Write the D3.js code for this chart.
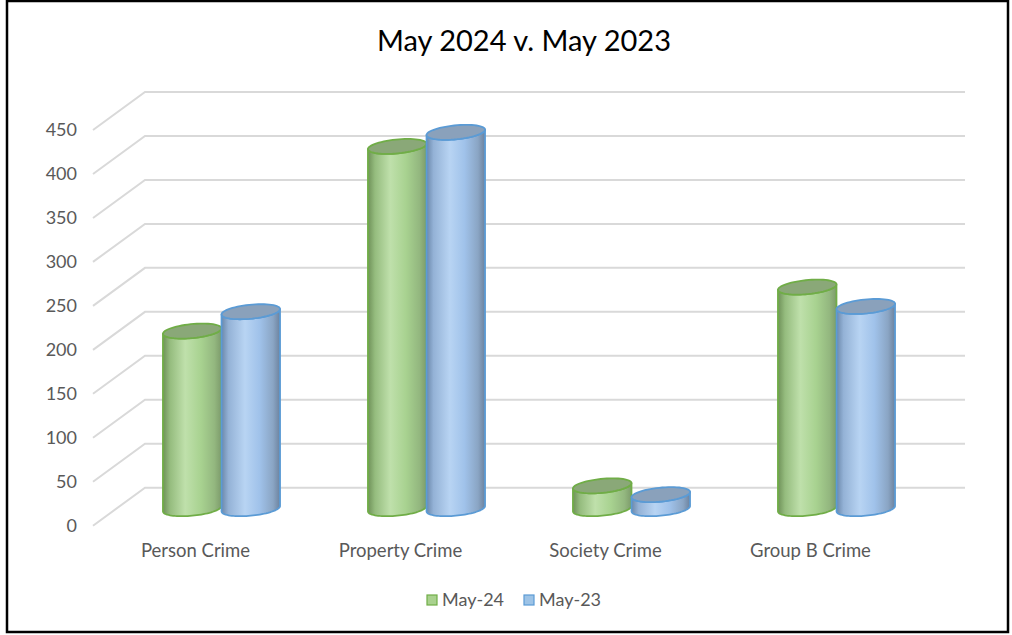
<!DOCTYPE html>
<html>
<head>
<meta charset="utf-8">
<script src="https://cdn.jsdelivr.net/npm/d3@7"></script>
<style>
  body { margin: 0; background: #fff; }
  text { font-family: Lato, "Open Sans", sans-serif; }
</style>
</head>
<body>
<div id="chart"></div>
<script>
// data
const categories = ["Person Crime", "Property Crime", "Society Crime", "Group B Crime"];
const seriesNames = ["May-24", "May-23"];
const may24 = [202, 412, 26, 252];
const may23 = [224, 428, 16, 230];
const yTicks = [0, 50, 100, 150, 200, 250, 300, 350, 400, 450];

const W = 1012, H = 635;
const svg = d3.select("#chart").append("svg")
    .attr("width", W)
    .attr("height", H);

// outer frame
svg.append("rect")
    .attr("x", 7).attr("y", 1)
    .attr("width", 1001).attr("height", 631)
    .attr("fill", "#fff")
    .attr("stroke", "#000")
    .attr("stroke-width", 2.5);

svg.append("text")
    .attr("x", 524).attr("y", 51)
    .attr("text-anchor", "middle")
    .attr("font-size", 29)
    .attr("fill", "#000")
    .text("May 2024 v. May 2023");

// front floor scales, depth goes up-right
const x = d3.scaleBand().domain(categories).range([93, 913]);
const xs = d3.scaleBand().domain(seriesNames).range([0, x.bandwidth()])
    .paddingInner(0).paddingOuter(0.75);
const y = d3.scaleLinear().domain([0, 450]).range([525.7, 130]);
const depth = {dx: 52, dy: -38};

// gridlines: diagonal on the side wall plus back wall line
const grid = svg.append("g").attr("stroke", "#d9d9d9").attr("stroke-width", 2).attr("fill", "none");
yTicks.forEach(t => {
    grid.append("path")
        .attr("d", `M${x.range()[0]},${y(t)} L${x.range()[0] + depth.dx},${y(t) + depth.dy} L${x.range()[1] + depth.dx},${y(t) + depth.dy}`);
});

svg.append("g").selectAll("text")
    .data(yTicks).join("text")
    .attr("x", 77)
    .attr("y", d => y(d))
    .attr("dy", "0.35em")
    .attr("text-anchor", "end")
    .attr("font-size", 18)
    .attr("fill", "#595959")
    .text(d => d);

svg.append("g").selectAll("text")
    .data(categories).join("text")
    .attr("x", d => x(d) + x.bandwidth() / 2)
    .attr("y", 557)
    .attr("text-anchor", "middle")
    .attr("font-size", 18.5)
    .attr("fill", "#595959")
    .text(d => d);

// gradients
const defs = svg.append("defs");
const styles = {
    "May-24": {stroke: "#70ad47", top: "#8aa878",
        stops: [[0, "#6f9159"], [0.12, "#95bc7e"], [0.38, "#bfe0ab"], [0.65, "#a8d290"], [0.88, "#93b77f"], [1, "#7d9b6b"]]},
    "May-23": {stroke: "#5b9bd5", top: "#8aa1bb",
        stops: [[0, "#6b88ab"], [0.12, "#94b2d6"], [0.4, "#b8d4f3"], [0.65, "#a0c2ea"], [0.88, "#8aa5c4"], [1, "#6c829e"]]}
};
seriesNames.forEach((s, i) => {
    const g = defs.append("linearGradient")
        .attr("id", "grad" + i)
        .attr("x1", "0%").attr("x2", "100%").attr("y1", "0%").attr("y2", "0%");
    styles[s].stops.forEach(st => {
        g.append("stop").attr("offset", st[0]).attr("stop-color", st[1]);
    });
});

// cylinder geometry (oblique circle)
const r = 27.3, b = 10.5, c = 7.5;
const t0 = Math.atan2(b, r);
const pt = (cx, cy, t) => [cx + r * Math.cos(t) + b * Math.sin(t), cy - c * Math.sin(t)];
const line = d3.line();

function arc(cx, cy, from, to, n) {
    return d3.range(n + 1).map(k => pt(cx, cy, from + (to - from) * k / n));
}

const rows = [];
categories.forEach((cat, ci) => {
    rows.push({cat, s: "May-24", v: may24[ci], si: 0});
    rows.push({cat, s: "May-23", v: may23[ci], si: 1});
});

const bars = svg.append("g");
rows.forEach(d => {
    const cx = x(d.cat) + xs(d.s) + xs.bandwidth() / 2 + depth.dx / 2;
    const by = y(0) + depth.dy / 2 + 2;
    const ty = y(d.v) + depth.dy / 2 + 2;
    const st = styles[d.s];

    const body = []
        .concat(arc(cx, by, t0 - Math.PI, t0, 40))
        .concat(arc(cx, ty, t0, t0 - Math.PI, 40));
    bars.append("path")
        .attr("d", line(body) + "Z")
        .attr("fill", `url(#grad${d.si})`)
        .attr("stroke", st.stroke)
        .attr("stroke-width", 1.8)
        .attr("stroke-linejoin", "round");

    bars.append("path")
        .attr("d", line(arc(cx, ty, 0, 2 * Math.PI, 60)) + "Z")
        .attr("fill", st.top)
        .attr("stroke", st.stroke)
        .attr("stroke-width", 1.8);
});

// legend
const legend = svg.append("g").attr("transform", "translate(427,600)");
const legX = [0, 97];
seriesNames.forEach((s, i) => {
    const g = legend.append("g").attr("transform", `translate(${legX[i]},0)`);
    g.append("rect")
        .attr("x", 0).attr("y", -5)
        .attr("width", 10).attr("height", 10)
        .attr("fill", i === 0 ? "#a9d18e" : "#9dc3e6")
        .attr("stroke", styles[s].stroke)
        .attr("stroke-width", 1.2);
    g.append("text")
        .attr("x", 15).attr("y", 0)
        .attr("dy", "0.35em")
        .attr("font-size", 18)
        .attr("fill", "#595959")
        .text(s);
});
</script>
</body>
</html>
